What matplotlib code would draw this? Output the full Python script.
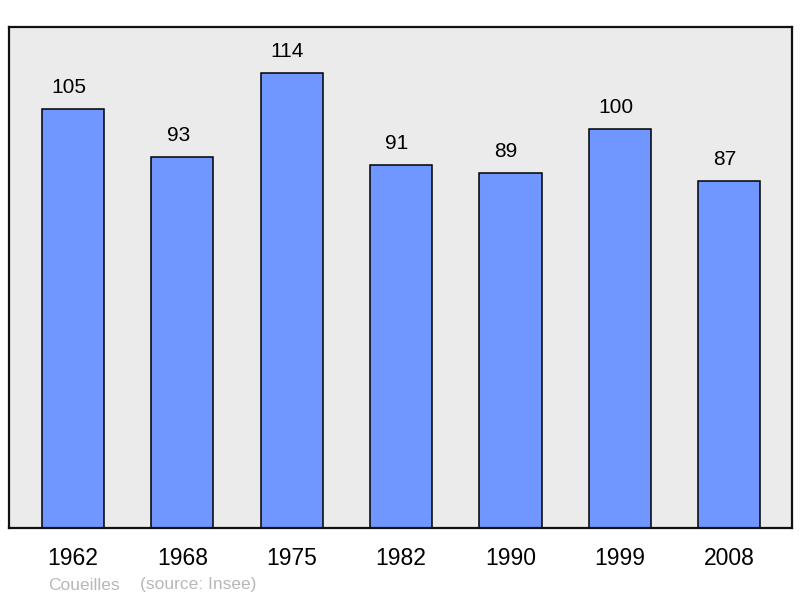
import matplotlib
matplotlib.use("Agg")
import matplotlib.pyplot as plt

years = ["1962", "1968", "1975", "1982", "1990", "1999", "2008"]
population = [105, 93, 114, 91, 89, 100, 87]
commune = "Coueilles"
source = "(source: Insee)"

plt.rcParams['font.family'] = ['Liberation Sans', 'DejaVu Sans']

fig = plt.figure(figsize=(8, 5.98), dpi=100)
ax = fig.add_axes([9/800, 1 - 528/598, 783/800, 501/598])
ax.set_facecolor('#ebebeb')

x = list(range(len(years)))
bars = ax.bar(x, population, width=0.57, color='#7096ff', edgecolor='black', linewidth=1.1, zorder=2)
for xi, v in zip(x, population):
    ax.annotate(str(v), (xi, v), xytext=(-3, 15.5), textcoords='offset points',
                ha='center', va='center', fontsize=15, color='black')

ax.set_xlim(-0.585, 6.575)
ax.set_ylim(0, 125.6)
ax.set_xticks(x)
ax.set_xticklabels(years, fontsize=16.5)
ax.tick_params(axis='x', length=0, pad=14)
ax.set_yticks([])
for s in ax.spines.values():
    s.set_linewidth(1.6)
    s.set_color('#111111')

fig.text(48/800, 1 - 585/598, commune, fontsize=12.5, color='#b8b8b8', va='center', ha='left')
fig.text(140/800, 1 - 585/598, source, fontsize=12.5, color='#b8b8b8', va='center', ha='left')

fig.savefig('out.png', dpi=100)
